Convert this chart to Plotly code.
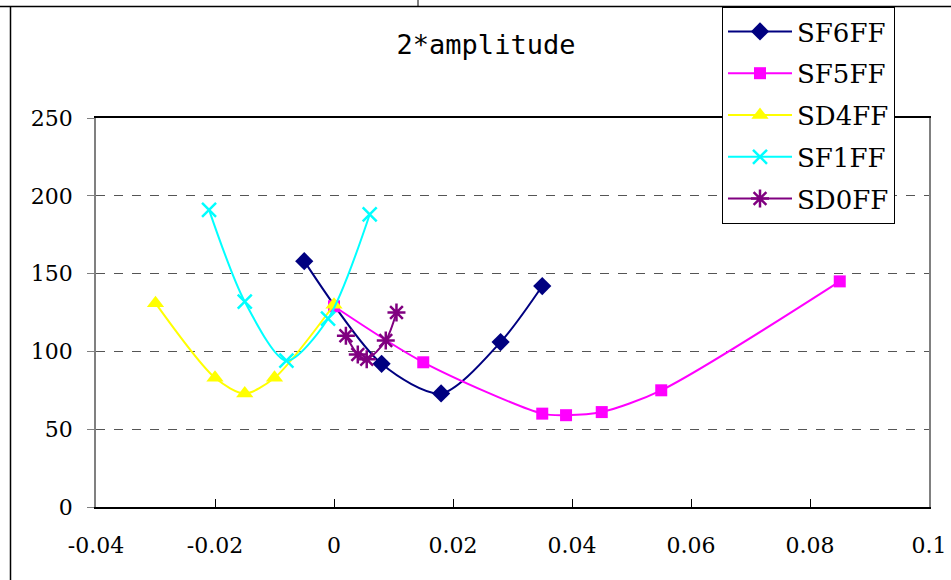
import plotly.graph_objects as go

# Series data: (x, amplitude) pairs per magnet family
sf6_x = [-0.005, 0.008, 0.018, 0.028, 0.035]
sf6_y = [158, 92, 73, 106, 142]

sf5_x = [0.0, 0.015, 0.035, 0.039, 0.045, 0.055, 0.085]
sf5_y = [129, 93, 60, 59, 61, 75, 145]

sd4_x = [-0.03, -0.02, -0.015, -0.01, 0.0]
sd4_y = [131, 83, 73, 83, 130]

sf1_x = [-0.021, -0.015, -0.008, -0.001, 0.006]
sf1_y = [191, 132, 94, 121, 188]

sd0_x = [0.002, 0.004, 0.0055, 0.0087, 0.0105]
sd0_y = [110, 98, 95, 107, 125]

x_tick_vals = [-0.04, -0.02, 0, 0.02, 0.04, 0.06, 0.08, 0.1]
x_tick_text = ["-0.04", "-0.02", "0", "0.02", "0.04", "0.06", "0.08", "0.1"]
y_tick_vals = [0, 50, 100, 150, 200, 250]

FONT = "DejaVu Serif"
TITLE_FONT = "DejaVu Sans Mono"

series = [
    ("SF6FF", sf6_x, sf6_y, "#000080", dict(symbol="diamond", size=14)),
    ("SF5FF", sf5_x, sf5_y, "#FF00FF", dict(symbol="square", size=12)),
    ("SD4FF", sd4_x, sd4_y, "#FFFF00", dict(symbol="triangle-up", size=15)),
    ("SF1FF", sf1_x, sf1_y, "#00FFFF", dict(symbol="x-thin-open", size=14, line=dict(width=2.5))),
    ("SD0FF", sd0_x, sd0_y, "#800080", dict(symbol="asterisk-open", size=15, line=dict(width=2.5))),
]

fig = go.Figure()
for name, xs, ys, color, marker in series:
    m = dict(color=color, **marker)
    if "line" in m:
        m["line"] = dict(color=color, **m["line"])
    fig.add_trace(go.Scatter(
        x=xs, y=ys, name=name, legendgroup=name, mode="lines+markers",
        line=dict(color=color, width=2, shape="spline", smoothing=0.8),
        marker=m,
    ))

W, H = 951, 580
L, R, T, B = 96, 22, 118, 73
pw, ph = W - L - R, H - T - B


def px(xpix):
    return (xpix - L) / pw


def py(ypix):
    return (H - B - ypix) / ph


# outer chart frame lines
shapes = [
    dict(type="line", xref="paper", yref="paper", x0=px(10.5), x1=px(10.5), y0=py(7), y1=py(580),
         line=dict(color="black", width=1.5)),
    dict(type="line", xref="paper", yref="paper", x0=px(0), x1=px(951), y0=py(6.5), y1=py(6.5),
         line=dict(color="black", width=1.5)),
    dict(type="line", xref="paper", yref="paper", x0=px(418), x1=px(418), y0=py(0), y1=py(6),
         line=dict(color="black", width=1)),
]

fig.update_layout(
    width=W, height=H,
    margin=dict(l=L, r=R, t=T, b=B, autoexpand=False),
    paper_bgcolor="white", plot_bgcolor="white",
    font=dict(family=FONT, color="black", size=22),
    title=dict(text="2*amplitude", x=486 / W, xanchor="center", y=1 - 45 / H, yanchor="middle",
               font=dict(family=TITLE_FONT, size=27, color="black")),
    showlegend=True,
    legend=dict(
        x=px(722), y=py(7), xanchor="left", yanchor="top",
        bgcolor="white", bordercolor="black", borderwidth=1,
        font=dict(family=FONT, size=26, color="black"),
        itemwidth=64, tracegroupgap=5,
    ),
    shapes=shapes,
)

fig.update_xaxes(
    range=[-0.04, 0.1], tickvals=x_tick_vals, ticktext=x_tick_text,
    showgrid=False, zeroline=False,
    showline=True, linecolor="black", linewidth=1.5, mirror=True,
    ticks="inside", ticklen=8, tickcolor="black",
    ticklabelstandoff=18, tickfont=dict(family=FONT, size=22),
)
fig.update_yaxes(
    range=[0, 250], tickvals=y_tick_vals,
    showgrid=True, gridcolor="#555555", griddash="dash", gridwidth=1,
    zeroline=False,
    showline=True, linecolor="#808080", linewidth=1.5, mirror=True,
    ticks="outside", ticklen=7, tickcolor="#808080",
    ticklabelstandoff=10, tickfont=dict(family=FONT, size=22),
)

fig.write_html("out.html")
